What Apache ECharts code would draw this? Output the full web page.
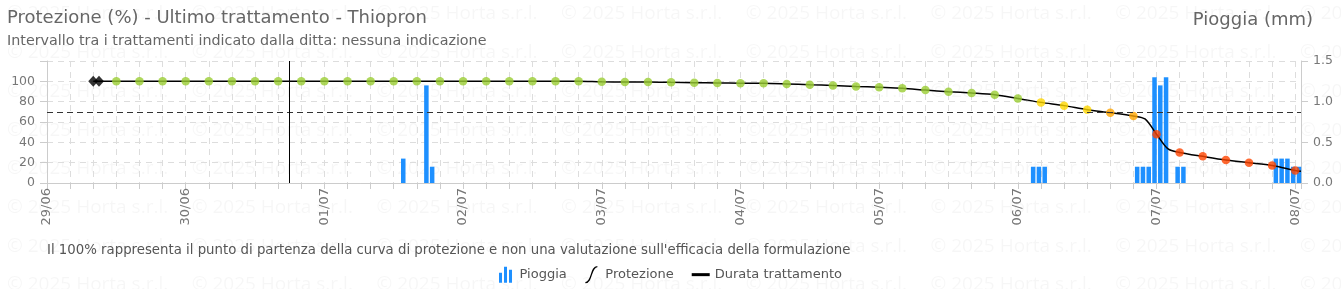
<!DOCTYPE html>
<html><head><meta charset="utf-8">
<script src="https://cdn.jsdelivr.net/npm/echarts@6/dist/echarts.min.js"></script>
<style>html,body{margin:0;padding:0;background:#fff}#c{width:1341px;height:289px}</style>
</head><body><div id="c"></div>
<script>
// ---- data (hours counted from 29/06 00:00) ----
const dayLabels = ['29/06','30/06','01/07','02/07','03/07','04/07','05/07','06/07','07/07','08/07'];
const trattamentoOre = [8, 9];
const trattamentoValori = [100, 100];
const protOre = [12,16,20,24,28,32,36,40,44,48,52,56,60,64,68,72,76,80,84,88,92,96,100,104,108,112,116,120,124,128,132,136,140,144,148,152,156,160,164,168,172,176,180,184,188,192,196,200,204,208,212,216];
const protValori = [100,100,100,100,100,100,100,100,100,100,100,100,100,100,100,100,100,100,100,100,100,99.5,99.4,99.3,99.0,98.7,98.4,98.1,98.0,97.4,96.7,96.0,95.0,94.1,93.1,91.4,89.8,88.5,86.8,83.2,79.3,76.1,72.1,69.2,65.9,48.0,30.1,26.2,22.6,20.0,17.3,12.4];
const curvaExtraOre = [190, 194, 217];
const curvaExtraValori = [63.0, 33.5, 11.5];
const pioggiaOre = [62, 66, 67, 171, 172, 173, 189, 190, 191, 192, 193, 194, 196, 197, 213, 214, 215, 216, 217];
const pioggiaMm  = [0.3, 1.2, 0.2, 0.2, 0.2, 0.2, 0.2, 0.2, 0.2, 1.3, 1.2, 1.3, 0.2, 0.2, 0.3, 0.3, 0.3, 0.2, 0.2];
const fineTrattamentoOra = 42;
const sogliaProtezione = 70;
const yLeftTicks = [0, 20, 40, 60, 80, 100];
const yRightTicks = ['0.0', '0.5', '1.0', '1.5'];

// ---- build ----
const FONT = '"DejaVu Sans", Verdana, sans-serif';
const BAR_SHIFT = -0.35;
const linePts = [];
trattamentoOre.forEach((h, i) => linePts.push([h, trattamentoValori[i]]));
protOre.forEach((h, i) => linePts.push([h, protValori[i]]));
curvaExtraOre.forEach((h, i) => linePts.push([h, curvaExtraValori[i]]));
linePts.sort((a, b) => a[0] - b[0]);
const dots = protOre.map((h, i) => [h, protValori[i]]);
const diamonds = trattamentoOre.map((h, i) => [h, trattamentoValori[i]]);
const rain = pioggiaOre.map((h, i) => [h + BAR_SHIFT, pioggiaMm[i]]);

function dotColor(v) {
  if (v >= 80) return '#9acd32';
  if (v >= 70) return '#ffd700';
  if (v >= 60) return '#ffa500';
  return '#ff4500';
}

const wm = [];
for (let r = 0; r < 8; r++) {
  for (let c = 0; c < 8; c++) {
    wm.push({type: 'text', x: 7 + 184.7 * c, y: 14 + 38.7 * r, silent: true, z: -10,
      style: {text: '© 2025 Horta s.r.l.', fill: 'rgba(0,0,0,0.035)', font: '19px "Open Sans", sans-serif', verticalAlign: 'middle'}});
  }
}

const chart = echarts.init(document.getElementById('c'));
chart.setOption({
  animation: false,
  backgroundColor: '#fff',
  textStyle: {fontFamily: FONT},
  graphic: wm,
  title: [
    {text: 'Protezione (%) - Ultimo trattamento - Thiopron', subtext: 'Intervallo tra i trattamenti indicato dalla ditta: nessuna indicazione',
     left: 7, top: 9, padding: 0, itemGap: 7,
     textStyle: {fontSize: 18, fontWeight: 'normal', color: '#666', fontFamily: FONT},
     subtextStyle: {fontSize: 14.3, color: '#666', fontFamily: FONT}},
    {text: 'Pioggia (mm)', right: 28, top: 11, padding: 0,
     textStyle: {fontSize: 18, fontWeight: 'normal', color: '#666', fontFamily: FONT}},
    {text: "Il 100% rappresenta il punto di partenza della curva di protezione e non una valutazione sull'efficacia della formulazione",
     left: 47, top: 244.5, padding: 0,
     textStyle: {fontSize: 13.3, fontWeight: 'normal', color: '#555', fontFamily: FONT}}
  ],
  legend: {
    left: 'center', top: 261, itemWidth: 18, itemHeight: 16, itemGap: 18,
    textStyle: {fontSize: 13, color: '#555', fontFamily: FONT},
    data: [
      {name: 'Pioggia', icon: 'path://M0,6H3V16H0Z M5,0H8V16H5Z M10,3H13V16H10Z'},
      {name: 'Protezione', icon: 'path://M0,16 C7,16 5,0 12,0', itemStyle: {color: 'rgba(0,0,0,0)', borderColor: '#000', borderWidth: 1.3}},
      {name: 'Durata trattamento', icon: 'path://M0,0H18V3H0Z'}
    ]
  },
  grid: {left: 47, right: 40, top: 61, bottom: 106},
  xAxis: {
    type: 'value', min: 0, max: 217, interval: 4,
    axisLine: {show: true, lineStyle: {color: '#ccc'}},
    axisTick: {show: true, length: 6, lineStyle: {color: '#ccc'}},
    splitLine: {show: true, lineStyle: {color: '#ddd', type: [6, 5]}},
    axisLabel: {rotate: 90, margin: 5, fontSize: 13, color: '#777', fontFamily: FONT,
      formatter: v => (v % 24 === 0 && dayLabels[v / 24]) ? dayLabels[v / 24] : ''}
  },
  yAxis: [
    {type: 'value', min: 0, max: 120, interval: 20,
     axisLine: {show: true, lineStyle: {color: '#ccc'}},
     axisTick: {show: true, length: 7, lineStyle: {color: '#ccc'}},
     splitLine: {show: true, lineStyle: {color: '#ddd', type: [6, 5]}},
     axisLabel: {fontSize: 12.5, color: '#777', margin: 12, fontFamily: FONT,
       formatter: v => yLeftTicks.indexOf(v) >= 0 ? String(v) : ''}},
    {type: 'value', min: 0, max: 1.5, interval: 0.5,
     axisLine: {show: true, lineStyle: {color: '#ccc'}},
     axisTick: {show: true, length: 7, lineStyle: {color: '#ccc'}},
     splitLine: {show: false},
     axisLabel: {fontSize: 12.5, color: '#777', margin: 12, fontFamily: FONT,
       formatter: v => yRightTicks[Math.round(v * 2)]}}
  ],
  series: [
    {name: 'Pioggia', type: 'bar', yAxisIndex: 1, data: rain, barWidth: 4.5, z: 2,
     itemStyle: {color: '#1e90ff'}},
    {name: 'Protezione', type: 'line', data: linePts, showSymbol: false, symbol: 'none', smooth: 0.3, z: 3,
     itemStyle: {color: '#000'}, lineStyle: {color: '#000', width: 1.5},
     markLine: {silent: true, symbol: 'none', label: {show: false},
       lineStyle: {color: '#333', type: [6, 4], width: 1.2}, data: [{yAxis: sogliaProtezione}]}},
    {name: 'Durata trattamento', type: 'line', data: [], z: 3, itemStyle: {color: '#000'},
     markLine: {silent: true, symbol: 'none', label: {show: false},
       lineStyle: {color: '#000', type: 'solid', width: 1}, data: [{xAxis: fineTrattamentoOra}]}},
    {name: 'punti', type: 'scatter', data: dots, symbolSize: 8.5, z: 4,
     itemStyle: {color: p => dotColor(p.value[1])}},
    {name: 'trattamento', type: 'scatter', data: diamonds, symbol: 'diamond', symbolSize: [10, 11], z: 4,
     itemStyle: {color: '#000'}}
  ]
});
</script>
</body></html>
